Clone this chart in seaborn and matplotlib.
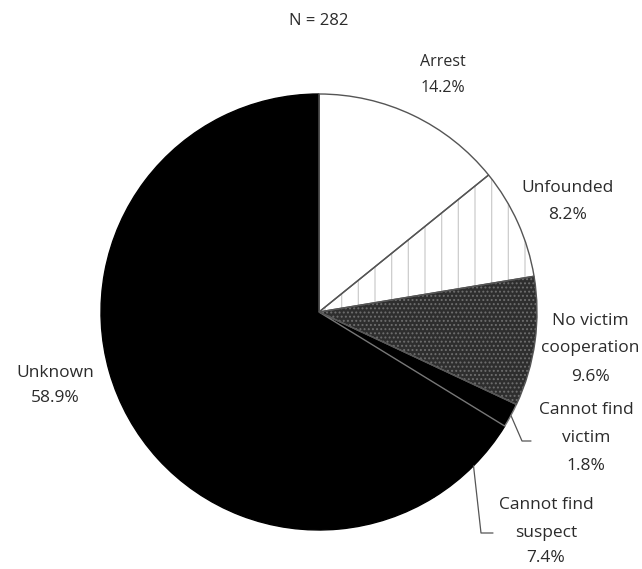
import numpy as np
import pandas as pd
import matplotlib
matplotlib.use("Agg")
import matplotlib.pyplot as plt
import seaborn as sns

# ---- data ----
categories = ["Arrest", "Unfounded", "No victim cooperation", "Cannot find victim",
              "Cannot find suspect", "Unknown"]
percents = [14.2, 8.2, 9.6, 1.8, 7.4, 58.9]
label_lines = [["Arrest", "14.2%"], ["Unfounded", "8.2%"],
               ["No victim", "cooperation", "9.6%"],
               ["Cannot find", "victim", "1.8%"],
               ["Cannot find", "suspect", "7.4%"],
               ["Unknown", "58.9%"]]
title = "N = 282"

df = pd.DataFrame({"category": categories, "pct": percents})

sns.set_theme(style="white")
plt.rcParams["font.family"] = ["Open Sans", "DejaVu Sans"]
plt.rcParams["hatch.linewidth"] = 0.9

W, H = 642, 569
fig = plt.figure(figsize=(W / 100, H / 100), dpi=100)
fig.patch.set_facecolor("white")

# pie geometry (pixels)
cx, cy, R = 319, 312, 218
ax = fig.add_axes([(cx - R) / W, (H - cy - R) / H, 2 * R / W, 2 * R / H])

faces = ["white", "white", "#2e2e2e", "black", "black", "black"]
wedges, _ = ax.pie(df["pct"], radius=1, startangle=90, counterclock=False,
                   colors=faces, wedgeprops=dict(linewidth=0))

# textures
wedges[1].set_hatch("|")
wedges[1].set_edgecolor("#cccccc")
wedges[2].set_hatch("....")
wedges[2].set_edgecolor("#6e6e6e")

# outlines
outline_cols = ["#555555", "#555555", "#555555", "#777777", "black", "black"]
outline_z = [6, 5, 4, 3, 2, 2]
ow, _ = ax.pie(df["pct"], radius=1, startangle=90, counterclock=False,
               wedgeprops=dict(fill=False, linewidth=1.0))
for w, c, z in zip(ow, outline_cols, outline_z):
    w.set_edgecolor(c)
    w.set_zorder(z)

ax.set_xlim(-1, 1)
ax.set_ylim(-1, 1)
ax.axis("off")


def px(x, y):
    return (x - cx) / R, (cy - y) / R


txt_kw = dict(ha="center", va="center", fontsize=12.5, color="#2b2b2b",
              clip_on=False)

positions = [
    (443, [62, 88]),
    (568, [188, 215]),
    (590, [321, 348, 377]),
    (586, [410, 438, 466]),
    (546, [505, 533, 558]),
    (55, [373, 398]),
]
sizes = [11.5, 12.5, 12.5, 12.5, 12.5, 12.5]
for lines, (x, ys), fs in zip(label_lines, positions, sizes):
    for s, y in zip(lines, ys):
        ax.text(*px(x, y), s, **{**txt_kw, "fontsize": fs})

fig.text(cx / W, 1 - 21 / H, title, ha="center", va="center",
         fontsize=12, color="#2b2b2b")

# leader lines from wedge mid-angles
def mid_point(w, r=1.0):
    th = np.deg2rad((w.theta1 + w.theta2) / 2)
    return r * np.cos(th), r * np.sin(th)

x0, y0 = mid_point(wedges[3], 1.0)
ax.plot([x0, px(522, 441)[0], px(531, 441)[0]],
        [y0, px(522, 441)[1], px(531, 441)[1]],
        color="#555555", lw=0.9, clip_on=False)
x0, y0 = mid_point(wedges[4], 1.0)
ax.plot([x0, px(481, 533)[0], px(493, 533)[0]],
        [y0, px(481, 533)[1], px(493, 533)[1]],
        color="#555555", lw=0.9, clip_on=False)

fig.savefig("out.png", dpi=100, facecolor="white")
